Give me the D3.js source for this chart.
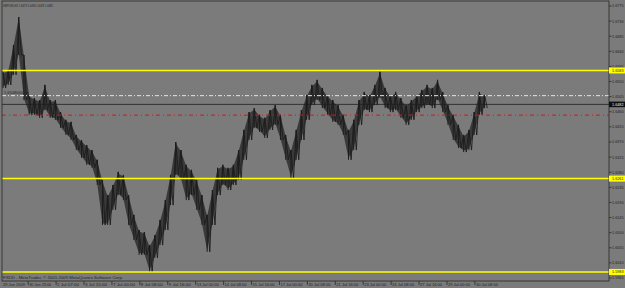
<!DOCTYPE html>
<html><head><meta charset="utf-8">
<script src="https://cdn.jsdelivr.net/npm/d3@7"></script>
<style>html,body{margin:0;padding:0;background:#7b7b7b;overflow:hidden}</style>
</head><body>
<script>
// ---- data (GBPUSD H1, sampled every 6 bars) ----
const symbolTitle = "GBPUSD,H1  1.6479 1.6490 1.6478 1.6482";
const watermark = "FXDD - MetaTrader, \u00A9 2001-2009 MetaQuotes Software Corp.";
const barHigh = [1.6579,1.6585,1.6659,1.6742,1.6629,1.6510,1.6501,1.6495,1.6540,1.6495,
1.6495,1.6459,1.6436,1.6430,1.6391,1.6376,1.6361,1.6346,1.6317,1.6257,
1.6212,1.6242,1.6281,1.6272,1.6212,1.6153,1.6108,1.6102,1.6063,1.6093,
1.6138,1.6197,1.6272,1.6370,1.6346,1.6302,1.6287,1.6257,1.6212,1.6153,
1.6227,1.6293,1.6302,1.6293,1.6302,1.6346,1.6406,1.6459,1.6471,1.6451,
1.6442,1.6465,1.6480,1.6451,1.6391,1.6346,1.6406,1.6465,1.6510,1.6540,
1.6555,1.6531,1.6510,1.6495,1.6480,1.6451,1.6406,1.6436,1.6495,1.6519,
1.6510,1.6540,1.6579,1.6531,1.6510,1.6519,1.6501,1.6480,1.6495,1.6510,
1.6525,1.6540,1.6531,1.6555,1.6519,1.6480,1.6451,1.6421,1.6391,1.6406,
1.6459,1.6519,1.6510];
const barLow = [1.6531,1.6540,1.6570,1.6629,1.6495,1.6451,1.6451,1.6442,1.6465,1.6442,
1.6436,1.6412,1.6391,1.6376,1.6346,1.6323,1.6302,1.6293,1.6242,1.6123,
1.6123,1.6168,1.6212,1.6197,1.6123,1.6078,1.6034,1.6034,1.5983,1.6025,
1.6063,1.6108,1.6182,1.6272,1.6257,1.6197,1.6212,1.6168,1.6123,1.6043,
1.6123,1.6212,1.6242,1.6227,1.6242,1.6257,1.6317,1.6376,1.6412,1.6400,
1.6382,1.6406,1.6421,1.6376,1.6317,1.6263,1.6317,1.6376,1.6436,1.6480,
1.6495,1.6471,1.6451,1.6430,1.6421,1.6391,1.6317,1.6346,1.6421,1.6465,
1.6459,1.6480,1.6501,1.6471,1.6459,1.6465,1.6442,1.6421,1.6436,1.6459,
1.6471,1.6480,1.6471,1.6495,1.6459,1.6421,1.6376,1.6352,1.6340,1.6346,
1.6391,1.6451,1.6471];
const barsPerSample = 6;
const xTickBars = [0,30,62,94,126,158,190,222,254,286,318,350,382,414,446,478,510,542];
const xTickLabels = ["29 Jun 2009","30 Jun 23:00","2 Jul 07:00","3 Jul 15:00","7 Jul 00:00","8 Jul 08:00",
"9 Jul 16:00","13 Jul 00:00","14 Jul 08:00","15 Jul 16:00","17 Jul 00:00","20 Jul 08:00",
"21 Jul 16:00","23 Jul 00:00","24 Jul 08:00","27 Jul 16:00","29 Jul 00:00","30 Jul 08:00"];
const yTickLabels = ["1.6775","1.6730","1.6685","1.6640","1.6595","1.6550","1.6505","1.6460","1.6415",
"1.6370","1.6325","1.6280","1.6235","1.6190","1.6145","1.6100","1.6055","1.6010","1.5965"];
const yellowLevels = [1.6583, 1.6261, 1.5983];
const bidPrice = 1.6482;
const whiteLevel = 1.6508;
const whiteLevelName = "1.6508000 ret";
const redLevel = 1.6450;

// ---- layout ----
const W = 625, H = 288;
const plotL = 2, plotR = 609, plotT = 1, plotB = 281;
const svg = d3.select("body").append("svg").attr("width", W).attr("height", H)
  .style("display","block").style("font-family","'Liberation Sans', Arial, sans-serif");
svg.append("rect").attr("width", W).attr("height", H).attr("fill", "#7b7b7b");

const x = d3.scaleLinear().domain([0, 555]).range([3, 3 + 555 * 0.8725]);
const y = d3.scaleLinear().domain([1.5965, 1.6775]).range([278, 6]);

svg.append("clipPath").attr("id","pc").append("rect")
  .attr("x", plotL).attr("y", plotT).attr("width", plotR - plotL).attr("height", plotB - plotT);
const plot = svg.append("g").attr("clip-path","url(#pc)");

// price ribbon
const data = barHigh.map((h, i) => ({bar: i * barsPerSample, hi: h, lo: barLow[i]}));
const area = d3.area().x(d => x(d.bar)).y0(d => y(d.lo) - 1.5).y1(d => y(d.hi) + 1.5);
plot.append("path").datum(data).attr("d", area).attr("fill", "#3a3a3a");
// zig-zag of highs and lows (bar-by-bar look)
const zig = [];
data.forEach((d, i) => {
  zig.push([x(d.bar), y(d.hi)]);
  zig.push([x(d.bar + barsPerSample / 2), y(d.lo)]);
});
plot.append("path").attr("d", d3.line()(zig)).attr("fill", "none")
  .attr("stroke", "#1c1c1c").attr("stroke-width", 0.9).attr("stroke-linejoin","miter");
plot.selectAll("line.bar").data(data).join("line").attr("class","bar")
  .attr("x1", d => x(d.bar)).attr("x2", d => x(d.bar))
  .attr("y1", d => y(d.hi)).attr("y2", d => y(d.lo))
  .attr("stroke", "#1c1c1c").attr("stroke-width", 1);

// levels
plot.append("line").attr("x1", plotL).attr("x2", plotR).attr("y1", y(whiteLevel)).attr("y2", y(whiteLevel))
  .attr("stroke", "#e6e6e6").attr("stroke-width", 1).attr("stroke-dasharray", "4,2,1,2");
plot.append("text").attr("x", 4).attr("y", y(whiteLevel) - 1.5).attr("font-size", 4).attr("fill", "#1e1e1e")
  .text(whiteLevelName);
plot.append("line").attr("x1", plotL).attr("x2", plotR).attr("y1", y(redLevel)).attr("y2", y(redLevel))
  .attr("stroke", "#d01818").attr("stroke-width", 1).attr("stroke-dasharray", "4,3,1,3");
plot.append("line").attr("x1", plotL).attr("x2", plotR).attr("y1", y(bidPrice)).attr("y2", y(bidPrice))
  .attr("stroke", "#202020").attr("stroke-width", 0.8);
plot.selectAll("line.yl").data(yellowLevels).join("line").attr("class","yl")
  .attr("x1", plotL).attr("x2", plotR).attr("y1", d => y(d)).attr("y2", d => y(d))
  .attr("stroke", "#ffff00").attr("stroke-width", 1.5);

// texts
svg.append("text").attr("x", 3).attr("y", 6.5).attr("font-size", 3.6).attr("fill", "#1e1e1e")
  .attr("textLength", 50).attr("lengthAdjust","spacingAndGlyphs").text(symbolTitle);
svg.append("text").attr("x", 3).attr("y", 278.8).attr("font-size", 4).attr("fill", "#1e1e1e")
  .attr("textLength", 120).attr("lengthAdjust","spacingAndGlyphs").text(watermark);

// frame
svg.append("rect").attr("x", plotL).attr("y", plotT).attr("width", plotR - plotL).attr("height", plotB - plotT)
  .attr("fill","none").attr("stroke","#2a2a2a").attr("stroke-width", 0.8);

// y axis
const yAxis = svg.append("g");
yTickLabels.forEach(t => {
  const v = +t, yy = y(v);
  yAxis.append("line").attr("x1", plotR).attr("x2", plotR + 2.5).attr("y1", yy).attr("y2", yy)
    .attr("stroke", "#2a2a2a").attr("stroke-width", 0.8);
  yAxis.append("text").attr("x", 612).attr("y", yy + 1.4).attr("font-size", 4).attr("fill", "#1e1e1e")
    .attr("textLength", 11.5).attr("lengthAdjust","spacingAndGlyphs").text(t);
});
// yellow price boxes
yellowLevels.forEach(v => {
  const yy = y(v);
  svg.append("rect").attr("x", plotR).attr("y", yy - 3).attr("width", W - plotR).attr("height", 6).attr("fill", "#ffff00");
  svg.append("text").attr("x", 612).attr("y", yy + 1.4).attr("font-size", 4).attr("fill", "#1e1e1e")
    .attr("textLength", 11.5).attr("lengthAdjust","spacingAndGlyphs").text(v.toFixed(4));
});
// bid box
{
  const yy = y(bidPrice);
  svg.append("rect").attr("x", plotR).attr("y", yy - 2.8).attr("width", W - plotR).attr("height", 5.6).attr("fill", "#101010");
  svg.append("text").attr("x", 612).attr("y", yy + 1.4).attr("font-size", 4).attr("fill", "#f0f0f0")
    .attr("textLength", 11.5).attr("lengthAdjust","spacingAndGlyphs").text(bidPrice.toFixed(4));
}

// x axis
const xAxis = svg.append("g");
xTickBars.forEach((b, i) => {
  const xx = x(b);
  if (i > 0) xAxis.append("line").attr("x1", xx - 1).attr("x2", xx - 1).attr("y1", plotB).attr("y2", plotB + 4)
    .attr("stroke", "#2a2a2a").attr("stroke-width", 0.8);
  xAxis.append("text").attr("x", xx).attr("y", 286.3).attr("font-size", 4).attr("fill", "#1e1e1e")
    .attr("textLength", 22).attr("lengthAdjust","spacingAndGlyphs").text(xTickLabels[i]);
});
</script>
</body></html>
